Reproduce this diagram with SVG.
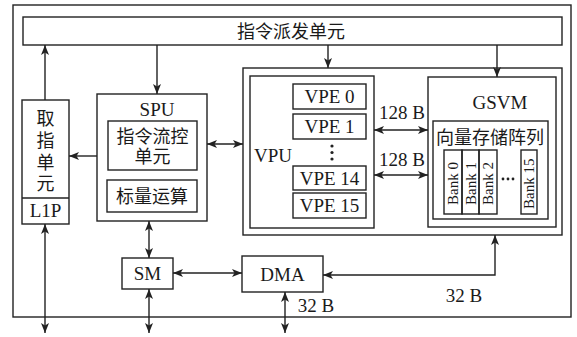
<svg xmlns="http://www.w3.org/2000/svg" width="577" height="337" viewBox="0 0 577 337">
  <style>
    .box { fill: none; stroke: #222; stroke-width: 1.4; }
    .lat { font-family: "Liberation Serif", "Times New Roman", serif; font-size: 19px; fill: #1a1a1a; text-anchor: middle; }
    .cjk { font-family: "Liberation Serif", "Noto Sans CJK SC", sans-serif; font-size: 18px; fill: #1a1a1a; text-anchor: middle; }
    .bank { font-family: "Liberation Serif", "Times New Roman", serif; font-size: 15px; fill: #1a1a1a; }
    .wire { fill: none; stroke: #222; stroke-width: 1.4; }
  </style>
  <defs>
    <marker id="arrow" markerUnits="userSpaceOnUse" markerWidth="11" markerHeight="9" refX="10" refY="4.5" orient="auto-start-reverse">
      <path d="M0,0.5 L10,4.5 L0,8.5 L2.5,4.5 z" fill="#222"/>
    </marker>
  </defs>
  <rect width="577" height="337" fill="#ffffff"/>

  <!-- chip boundary -->
  <rect id="frame" class="box" x="13" y="5" width="558" height="312"/>

  <!-- instruction dispatch -->
  <g id="dispatch">
    <rect class="box" x="23" y="17" width="539" height="28"/>
    <text class="cjk" x="291" y="37.5">指令派发单元</text>
  </g>

  <!-- fetch unit with L1P -->
  <g id="fetch">
    <rect class="box" x="22" y="100" width="47" height="124"/>
    <line class="box" x1="22" y1="198" x2="69" y2="198"/>
    <text class="cjk" x="45.5" y="125">取</text>
    <text class="cjk" x="45.5" y="147">指</text>
    <text class="cjk" x="45.5" y="169">单</text>
    <text class="cjk" x="45.5" y="190">元</text>
    <text class="lat" x="45.5" y="217">L1P</text>
  </g>

  <!-- scalar unit -->
  <g id="spu">
    <rect class="box" x="97" y="94" width="110" height="127"/>
    <text class="lat" x="157" y="116">SPU</text>
    <rect class="box" x="108" y="121" width="89" height="49"/>
    <text class="cjk" x="152.5" y="143">指令流控</text>
    <text class="cjk" x="152.5" y="163">单元</text>
    <rect class="box" x="107" y="180" width="90" height="32"/>
    <text class="cjk" x="152" y="203">标量运算</text>
  </g>

  <!-- vector section -->
  <g id="vector">
    <rect class="box" x="243" y="68" width="319" height="167"/>
  </g>

  <g id="vpu">
    <rect class="box" x="250" y="76" width="124" height="152"/>
    <text class="lat" x="273" y="162">VPU</text>
    <rect class="box" x="293" y="84" width="73" height="25"/>
    <text class="lat" x="329.5" y="103">VPE 0</text>
    <rect class="box" x="293" y="114" width="73" height="25"/>
    <text class="lat" x="329.5" y="133">VPE 1</text>
    <circle cx="332" cy="146" r="1.6" fill="#222"/>
    <circle cx="332" cy="152.5" r="1.6" fill="#222"/>
    <circle cx="332" cy="159" r="1.6" fill="#222"/>
    <rect class="box" x="293" y="166" width="73" height="24"/>
    <text class="lat" x="329.5" y="185">VPE 14</text>
    <rect class="box" x="293" y="193" width="73" height="25"/>
    <text class="lat" x="329.5" y="212">VPE 15</text>
  </g>

  <g id="gsvm">
    <rect class="box" x="428" y="77" width="128" height="150"/>
    <text class="lat" x="500" y="109">GSVM</text>
    <rect class="box" x="433" y="121" width="115" height="98"/>
    <text class="cjk" x="490" y="143.5">向量存储阵列</text>
    <rect class="box" x="444" y="150" width="18" height="64"/>
    <rect class="box" x="462" y="150" width="17" height="64"/>
    <rect class="box" x="479" y="150" width="18" height="64"/>
    <rect class="box" x="521" y="150" width="16" height="64"/>
    <text class="bank" transform="translate(458,205) rotate(-90)">Bank 0</text>
    <text class="bank" transform="translate(475.5,205) rotate(-90)">Bank 1</text>
    <text class="bank" transform="translate(493,205) rotate(-90)">Bank 2</text>
    <text class="bank" transform="translate(534,209) rotate(-90)">Bank 15</text>
    <circle cx="503" cy="179" r="1.4" fill="#222"/>
    <circle cx="508" cy="179" r="1.4" fill="#222"/>
    <circle cx="513" cy="179" r="1.4" fill="#222"/>
  </g>

  <g id="sm">
    <rect class="box" x="122" y="258" width="51" height="31"/>
    <text class="lat" x="147.5" y="280">SM</text>
  </g>

  <g id="dma">
    <rect class="box" x="242" y="256" width="81" height="36"/>
    <text class="lat" x="282.5" y="281">DMA</text>
  </g>

  <!-- connectors -->
  <g id="connectors">
    <path class="wire" d="M45,100 V45" marker-end="url(#arrow)"/>
    <path class="wire" d="M157,45 V94" marker-end="url(#arrow)"/>
    <path class="wire" d="M328,45 V68" marker-end="url(#arrow)"/>
    <path class="wire" d="M497,45 V77" marker-end="url(#arrow)"/>
    <path class="wire" d="M97,156 H69" marker-end="url(#arrow)"/>
    <path class="wire" d="M207,144 H243" marker-start="url(#arrow)" marker-end="url(#arrow)"/>
    <path class="wire" d="M374,130 H428" marker-start="url(#arrow)" marker-end="url(#arrow)"/>
    <path class="wire" d="M374,175 H428" marker-start="url(#arrow)" marker-end="url(#arrow)"/>
    <path class="wire" d="M149,221 V258" marker-start="url(#arrow)" marker-end="url(#arrow)"/>
    <path class="wire" d="M149,289 V333" marker-start="url(#arrow)" marker-end="url(#arrow)"/>
    <path class="wire" d="M45,224 V333" marker-start="url(#arrow)" marker-end="url(#arrow)"/>
    <path class="wire" d="M173,273 H242" marker-start="url(#arrow)" marker-end="url(#arrow)"/>
    <path class="wire" d="M285,292 V333" marker-start="url(#arrow)" marker-end="url(#arrow)"/>
    <path class="wire" d="M323,275 H495 V235" marker-start="url(#arrow)" marker-end="url(#arrow)"/>
    <text class="lat" x="402" y="119">128 B</text>
    <text class="lat" x="402" y="166">128 B</text>
    <text class="lat" x="316" y="312">32 B</text>
    <text class="lat" x="464" y="302">32 B</text>
  </g>
</svg>
